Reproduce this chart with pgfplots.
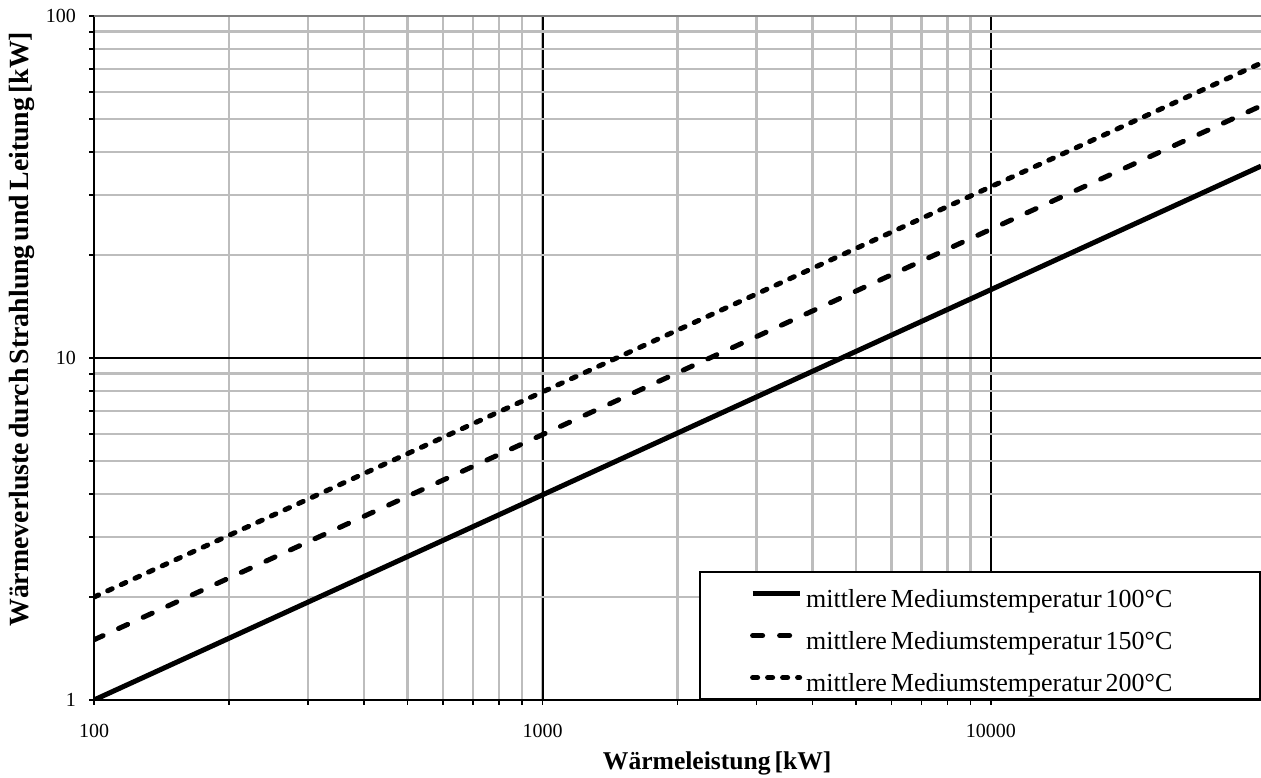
\documentclass[border=0pt]{standalone}
\usepackage{fontspec}
\setmainfont{Liberation Serif}
\newfontfamily\narrowsp[WordSpace=0.6]{Liberation Serif}
\usepackage{pgfplots}
\pgfplotsset{compat=1.18}
\usetikzlibrary{calc}
\newcommand{\legtxt}[1]{\makebox[200pt][l]{#1}}
\begin{document}
\begin{tikzpicture}
\begin{axis}[
  scale only axis, width=583.5pt, height=342pt,
  xmode=log, ymode=log,
  xmin=100, xmax=40000, ymin=1, ymax=100,
  axis x line*=bottom, axis y line*=left,
  axis line style={line width=0.9pt, -},
  xtick={100,1000,10000}, ytick={1,10,100},
  log ticks with fixed point,
  /pgf/number format/1000 sep={},
  /pgf/number format/assume math mode=true,
  tick label style={font=\fontsize{10}{12}\selectfont},
  xticklabel style={yshift=-6pt},
  yticklabel style={xshift=-3pt},
  grid=both,
  major grid style={black, line width=1pt},
  minor grid style={color=black!26, line width=1.3pt},
  tick align=outside, major tick length=2.5pt, minor tick length=2.5pt,
  every tick/.style={black, line width=0.9pt},
  xlabel={\textbf{Wärmeleistung [kW]}},
  ylabel={\textbf{Wärmeverluste durch Strahlung und Leitung [kW]}},
  xlabel style={font=\narrowsp\fontsize{12.8}{15}\selectfont,
    at={(axis description cs:0.534,0)}, anchor=center, yshift=-31.5pt},
  ylabel style={font=\narrowsp\fontsize{13.9}{16}\selectfont,
    at={(axis description cs:-0.0617,0.542)}, anchor=center},
  legend style={at={(1,0)}, anchor=south east, draw=black, line width=0.9pt,
    fill=white, font=\narrowsp\fontsize{13}{15}\selectfont,
    inner xsep=25pt, inner ysep=3pt, row sep=5.5pt,
    nodes={inner xsep=2pt, inner ysep=0pt, text height=14.5pt, text depth=1pt}},
  legend cell align=left,
  legend image code/.code={\draw[#1] (0pt,0pt) -- (23.5pt,0pt);},
]
\addplot[black, line width=2.5pt] coordinates {(100,1) (1000,3.98) (10000,15.85) (40000,36.4)};
\addlegendentry{\legtxt{mittlere Mediumstemperatur 100°C}}
\addplot[black, line width=2.5pt, line cap=round, dash pattern=on 5pt off 8.5pt] coordinates {(100,1.5) (1000,5.97) (10000,23.8) (40000,54.6)};
\addlegendentry{\legtxt{mittlere Mediumstemperatur 150°C}}
\addplot[black, line width=2.5pt, line cap=round, dash pattern=on 2.5pt off 5pt] coordinates {(100,2) (1000,7.96) (10000,31.7) (40000,72.8)};
\addlegendentry{\legtxt{mittlere Mediumstemperatur 200°C}}
\draw[black!50, line width=1.2pt] (rel axis cs:0,1) -- (rel axis cs:1,1);
\end{axis}
\pgfresetboundingbox
\path ($(current axis.south west)+(-47pt,-39pt)$) rectangle ($(current axis.north east)+(0pt,8pt)$);
\end{tikzpicture}
\end{document}
